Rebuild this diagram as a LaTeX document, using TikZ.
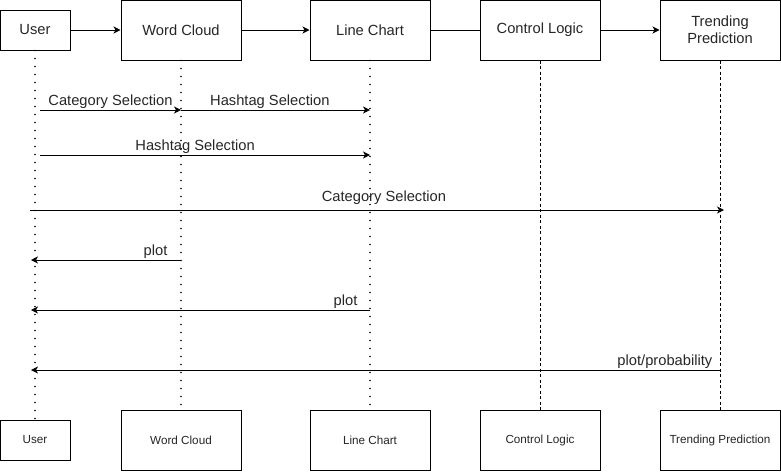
\documentclass[tikz,border=0pt]{standalone}
\usepackage{fontspec}
\setmainfont{Liberation Sans}
\usetikzlibrary{arrows.meta,positioning}

\begin{document}
\begin{tikzpicture}[
    x=1pt, y=-1pt,
    box/.style={draw, line width=1pt, fill=white, minimum width=120pt, minimum height=60pt, align=center, font=\fontsize{14.7}{17}\selectfont, text=black!85},
    sbox/.style={box, font=\fontsize{11.7}{14}\selectfont},
    dotline/.style={line width=1.7pt, dash pattern=on 0pt off 8pt, line cap=round},
    dashline/.style={line width=1pt, dash pattern=on 3pt off 2.5pt},
    arr/.style={-{Stealth[length=7pt, width=7pt, inset=2pt]}, line width=1pt},
    lbl/.style={font=\fontsize{14.7}{17}\selectfont, text=black!85, inner sep=0.5pt, above}
]
\useasboundingbox (0,0) rectangle (781,472);

\node[box, minimum width=70pt, minimum height=40pt] (user) at (35,30) {User};
\node[box] (wc) at (181,30) {Word Cloud};
\node[box] (lc) at (370,30) {Line Chart};
\node[box] (cl) at (540,30) {Control Logic};
\node[box] (tp) at (720,30) {Trending\\Prediction};

\node[sbox, minimum width=70pt, minimum height=40pt] (userB) at (35,440) {User};
\node[sbox] (wcB) at (181,440) {Word Cloud};
\node[sbox] (lcB) at (370,440) {Line Chart};
\node[sbox] (clB) at (540,440) {Control Logic};
\node[sbox] (tpB) at (720,440) {Trending Prediction};

\draw[dotline] (user) -- (userB);
\draw[dotline] (wc) -- (wcB);
\draw[dotline] (lc) -- (lcB);
\draw[dashline] (cl) -- (clB);
\draw[dashline] (tp) -- (tpB);

\draw[arr] (user) -- (wc);
\draw[arr] (wc) -- (lc);
\draw[line width=1pt] (lc) -- (cl);
\draw[arr] (cl) -- (tp);

\coordinate (m1) at (0,110);
\coordinate (m3) at (0,155);
\coordinate (m4) at (0,210);
\coordinate (m5) at (0,260);
\coordinate (m6) at (0,310);
\coordinate (m7) at (0,370);

\draw[arr] ([xshift=5pt]user |- m1) -- node[lbl] {Category Selection} (wc |- m1);
\draw[arr] (wc |- m1) -- node[lbl, pos=0.47] {Hashtag Selection} (lc |- m1);
\draw[arr] ([xshift=5pt]user |- m3) -- node[lbl, pos=0.47] {Hashtag Selection} (lc |- m3);
\draw[arr] ([xshift=-5pt]user |- m4) -- node[lbl, pos=0.51, yshift=4pt] {Category Selection} ([xshift=4pt]tp |- m4);
\draw[arr] (wc |- m5) -- node[lbl, pos=0.17] {plot} ([xshift=-4pt]user |- m5);
\draw[arr] (lc |- m6) -- node[lbl, pos=0.072] {plot} ([xshift=-4pt]user |- m6);
\draw[arr] (tp |- m7) -- node[lbl, pos=0.08] {plot/probability} ([xshift=-4pt]user |- m7);
\end{tikzpicture}
\end{document}
